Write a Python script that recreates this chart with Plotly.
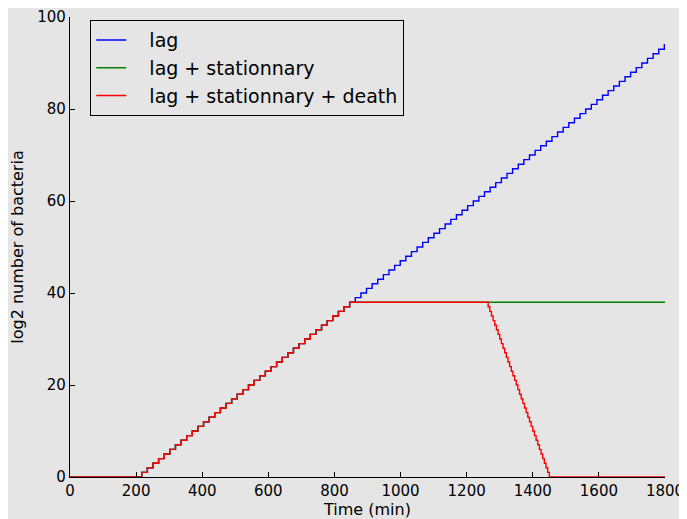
import plotly.graph_objects as go

# Division times (min) for the exponential growth after the lag phase
division_times = [217, 234, 251, 268, 285, 302, 319, 336, 353, 370, 387, 404, 421, 438, 455, 472,
                  489, 506, 523, 540, 557, 574, 591, 608, 625, 642, 659, 676, 693, 710, 727, 744,
                  761, 778, 795, 812, 829, 846, 863, 880, 897, 914, 931, 948, 965, 982, 999, 1016,
                  1033, 1050, 1067, 1084, 1101, 1118, 1135, 1152, 1169, 1186, 1203, 1220, 1237,
                  1254, 1271, 1288, 1305, 1322, 1339, 1356, 1373, 1390, 1407, 1424, 1441, 1458,
                  1475, 1492, 1509, 1526, 1543, 1560, 1577, 1594, 1611, 1628, 1645, 1662, 1679,
                  1696, 1713, 1730, 1747, 1764, 1781, 1798]
division_values = [1, 2, 3, 4, 5, 6, 7, 8, 9, 10, 11, 12, 13, 14, 15, 16, 17, 18, 19, 20, 21, 22,
                   23, 24, 25, 26, 27, 28, 29, 30, 31, 32, 33, 34, 35, 36, 37, 38, 39, 40, 41, 42,
                   43, 44, 45, 46, 47, 48, 49, 50, 51, 52, 53, 54, 55, 56, 57, 58, 59, 60, 61, 62,
                   63, 64, 65, 66, 67, 68, 69, 70, 71, 72, 73, 74, 75, 76, 77, 78, 79, 80, 81, 82,
                   83, 84, 85, 86, 87, 88, 89, 90, 91, 92, 93, 94]
start_time = [0]
start_value = [0]
end_time = [1800]

# Stationary phase cap
stationary_level = 38

# Death phase: step times and values
death_times = [1260, 1265, 1270, 1275, 1280, 1285, 1290, 1295, 1300, 1305, 1310, 1315, 1320, 1325,
               1330, 1335, 1340, 1345, 1350, 1355, 1360, 1365, 1370, 1375, 1380, 1385, 1390,
               1395, 1400, 1405, 1410, 1415, 1420, 1425, 1430, 1435, 1440, 1445, 1450]
death_values = [38, 37, 36, 35, 34, 33, 32, 31, 30, 29, 28, 27, 26, 25, 24, 23, 22, 21, 20, 19,
                18, 17, 16, 15, 14, 13, 12, 11, 10, 9, 8, 7, 6, 5, 4, 3, 2, 1, 0]

x_ticks = [0, 200, 400, 600, 800, 1000, 1200, 1400, 1600, 1800]
y_ticks = [0, 20, 40, 60, 80, 100]
series_names = ["lag", "lag + stationnary", "lag + stationnary + death"]

# Build series
lag_x = start_time + [200] + division_times + end_time
lag_y = start_value + [0] + division_values + [division_values[-1]]

n_stat = division_values.index(stationary_level) + 1
stat_x = start_time + [200] + division_times[:n_stat] + end_time
stat_y = start_value + [0] + division_values[:n_stat] + [stationary_level]

death_x = start_time + [200] + division_times[:n_stat] + death_times + end_time
death_y = start_value + [0] + division_values[:n_stat] + death_values + [0]

pad = "\u00a0\u00a0\u00a0"

fig = go.Figure()
fig.add_trace(go.Scatter(x=lag_x, y=lag_y, mode="lines", line_shape="hv",
                         line=dict(color="#0000ff", width=1.4), name=pad + series_names[0]))
fig.add_trace(go.Scatter(x=stat_x, y=stat_y, mode="lines", line_shape="hv",
                         line=dict(color="#008000", width=1.4), name=pad + series_names[1]))
fig.add_trace(go.Scatter(x=death_x, y=death_y, mode="lines", line_shape="hv",
                         line=dict(color="#ff0000", width=1.4), name=pad + series_names[2]))

bg = "#e5e5e5"
# page body has an 8px margin, so the figure is 8px smaller than the window
fig.update_layout(
    width=679, height=511,
    margin=dict(l=62, r=22, t=9, b=42),
    paper_bgcolor=bg, plot_bgcolor=bg,
    font=dict(family="DejaVu Sans", size=15, color="#000000"),
    showlegend=True,
    legend=dict(x=0.034, y=0.993, xanchor="left", yanchor="top",
                bgcolor=bg, bordercolor="#000000", borderwidth=1,
                font=dict(size=19), tracegroupgap=0),
    xaxis=dict(range=[0, 1800], tickvals=x_ticks, automargin=False,
               showgrid=False, zeroline=False, showline=True, linecolor="#000000", linewidth=1.4,
               ticks="inside", ticklen=5, tickcolor="#000000", tickfont=dict(size=15),
               title=dict(text="Time (min)", standoff=5, font=dict(size=16))),
    yaxis=dict(range=[0, 100], tickvals=y_ticks, automargin=False,
               showgrid=False, zeroline=False, showline=True, linecolor="#000000", linewidth=1.4,
               ticks="inside", ticklen=5, tickcolor="#000000", tickfont=dict(size=15),
               title=dict(text="log2 number of bacteria", standoff=9, font=dict(size=16))),
)

fig.write_html("out.html")
